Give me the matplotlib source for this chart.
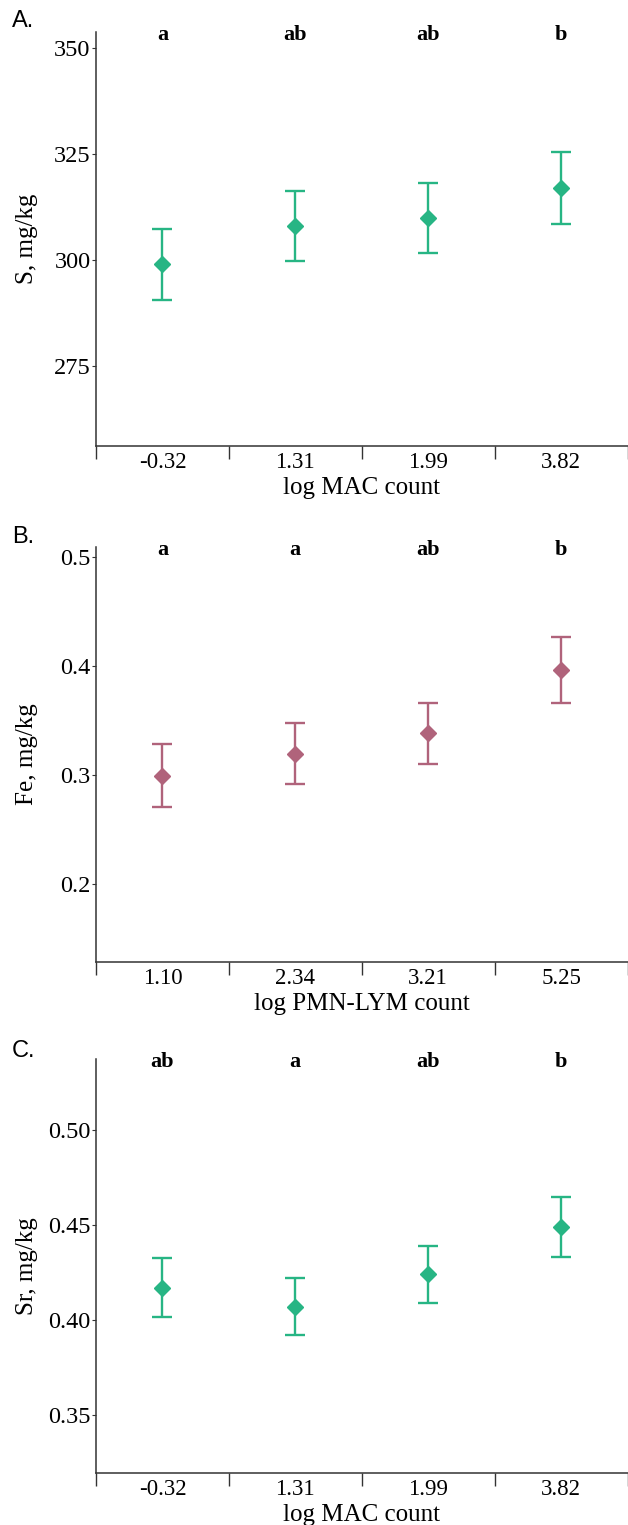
import numpy as np
import matplotlib
matplotlib.use("Agg")
import matplotlib.pyplot as plt
import matplotlib.transforms as mtransforms

# ---------------------------------------------------------
# Data
# ---------------------------------------------------------
mac_labels = ["-0.32", "1.31", "1.99", "3.82"]
pmn_labels = ["1.10", "2.34", "3.21", "5.25"]

s_mean = [299.0, 308.0, 310.0, 317.0]
s_err = [8.4, 8.3, 8.3, 8.5]
s_letters = ["a", "ab", "ab", "b"]

fe_mean = [0.299, 0.319, 0.338, 0.396]
fe_err = [0.029, 0.028, 0.028, 0.030]
fe_letters = ["a", "a", "ab", "b"]

sr_mean = [0.417, 0.407, 0.424, 0.449]
sr_err = [0.0155, 0.015, 0.015, 0.0158]
sr_letters = ["ab", "a", "ab", "b"]

GREEN = "#27b584"
MAUVE = "#b0637b"

plt.rcParams["font.family"] = ["Liberation Serif", "DejaVu Serif"]

fig = plt.figure(figsize=(6.28, 15.25), dpi=100)
W, H = 628.0, 1525.0


def panel(top_px, bottom_px, means, errs, letters, xlabels, xlabel, ylabel,
          yticks, yticklabels, ylim, color, tag, tag_base_px):
    left = 96 / W
    ax = fig.add_axes([left, 1 - bottom_px / H, 1 - left - 0.5 / W,
                       (bottom_px - top_px) / H])
    x = np.arange(len(means)) + 0.5
    ax.errorbar(x, means, yerr=errs, fmt="D", color=color, ms=8.5,
                elinewidth=1.7, capsize=7, capthick=1.7)
    ax.set_xlim(0, len(means))
    ax.set_ylim(*ylim)

    # bin boundaries as major ticks, labels centered as minor ticks
    ax.set_xticks(np.arange(len(means) + 1))
    ax.set_xticklabels([])
    ax.set_xticks(x, minor=True)
    ax.set_xticklabels(xlabels, minor=True, fontsize=16.5)
    ax.tick_params(axis="x", which="major", length=9, width=1.0,
                   direction="out", color="#333333")
    ax.tick_params(axis="x", which="minor", length=0, pad=4)
    ax.set_yticks(yticks)
    ax.set_yticklabels(yticklabels, fontsize=17.5)
    ax.tick_params(axis="y", length=3, width=0.8, pad=1, color="#333333")

    for side in ("top", "right"):
        ax.spines[side].set_visible(False)
    for side in ("left", "bottom"):
        ax.spines[side].set_linewidth(1.1)
        ax.spines[side].set_color("#333333")

    ax.set_xlabel(xlabel, fontsize=18, labelpad=3)
    ax.set_ylabel(ylabel, fontsize=18)
    ax.yaxis.set_label_coords(-(96 - 38) / (W - 96), 0.5)

    trans = mtransforms.blended_transform_factory(ax.transData, ax.transAxes)
    for xi, lt in zip(x, letters):
        ax.text(xi, 0.981, lt, transform=trans, ha="center", va="baseline",
                fontsize=16, fontweight="bold")

    fig.text(12 / W, 1 - tag_base_px / H, tag, ha="left", va="baseline",
             fontsize=17, family=["Liberation Sans", "DejaVu Sans"])
    return ax


panel(32, 446, s_mean, s_err, s_letters, mac_labels, "log MAC count",
      "S, mg/kg", [275, 300, 325, 350], ["275", "300", "325", "350"],
      (256.2, 353.8), GREEN, "A.", 26.7)

panel(547, 962, fe_mean, fe_err, fe_letters, pmn_labels, "log PMN-LYM count",
      "Fe, mg/kg", [0.2, 0.3, 0.4, 0.5], ["0.2", "0.3", "0.4", "0.5"],
      (0.128, 0.509), MAUVE, "B.", 542.7)

panel(1059, 1473, sr_mean, sr_err, sr_letters, mac_labels, "log MAC count",
      "Sr, mg/kg", [0.35, 0.40, 0.45, 0.50], ["0.35", "0.40", "0.45", "0.50"],
      (0.3195, 0.5374), GREEN, "C.", 1056.7)

fig.savefig("out.png", dpi=100)
